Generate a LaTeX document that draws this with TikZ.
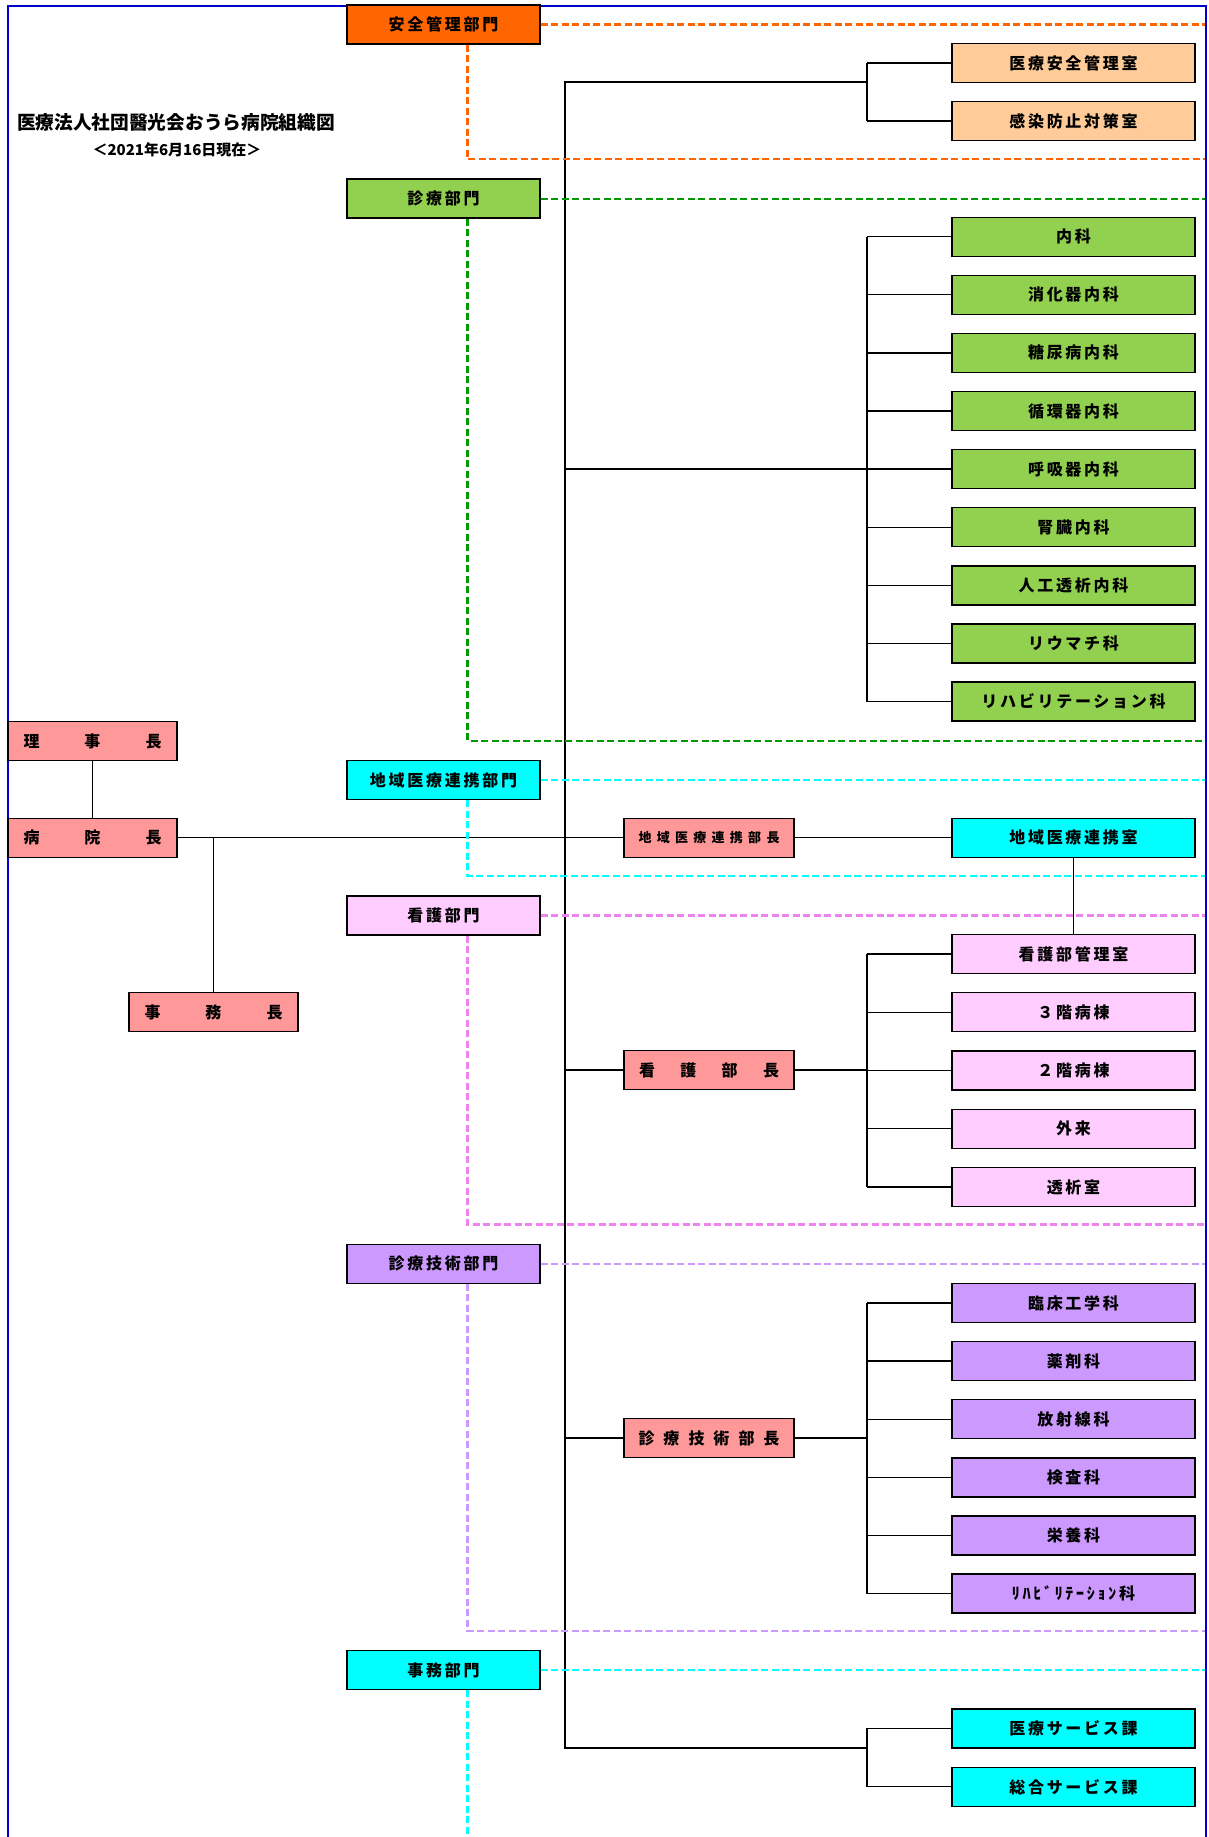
\documentclass[tikz,border=0pt]{standalone}
\usepackage{fontspec}
\setmainfont{Noto Sans CJK JP}
\newfontfamily\jp{Noto Sans CJK JP}[LetterSpace=17]
\newfontfamily\jpn{Noto Sans CJK JP}
\definecolor{cOrange}{HTML}{FF6600}
\definecolor{cPeach}{HTML}{FFCC99}
\definecolor{cGreen}{HTML}{92D050}
\definecolor{cGreenLine}{HTML}{009900}
\definecolor{cCyan}{HTML}{00FFFF}
\definecolor{cPink}{HTML}{FFCCFF}
\definecolor{cPinkLine}{HTML}{EE82EE}
\definecolor{cPurple}{HTML}{CC99FF}
\definecolor{cRed}{HTML}{FF9999}
\definecolor{cBlue}{HTML}{0000CC}
\newcommand\boxfont{\jp\bfseries\fontsize{16pt}{18pt}\selectfont}
\newcommand\smallboxfont{\jpn\bfseries\fontsize{13pt}{15pt}\selectfont}
\tikzset{
  conn/.style={draw=black, line width=1.3pt},
  box/.style={draw=black, line width=1.4pt, minimum height=39pt, inner sep=0pt, font=\boxfont},
  dept/.style={box, minimum width=193pt},
  unit/.style={box, minimum width=243pt},
  head/.style={box, minimum width=170pt, fill=cRed},
  exec/.style={box, minimum width=169pt, fill=cRed},
  dsh/.style={line width=2.2pt, dash pattern=on 7pt off 3.5pt},
}
\begin{document}
\begin{tikzpicture}[x=1pt,y=-1pt]
\useasboundingbox (0,0) rectangle (1208,1837);
% page border
\draw[cBlue, line width=1.6pt] (8,1837) -- (8,6) -- (1206,6) -- (1206,1837);

% title
\node[font=\jpn\bfseries\fontsize{18.7pt}{21pt}\selectfont] (title) at (176,122) {医療法人社団醫光会おうら病院組織図};
\node[font=\jpn\bfseries\fontsize{15pt}{17pt}\selectfont] (date) at (177,150) {＜2021年6月16日現在＞};

% coordinates
\coordinate (tTop) at (565,82);
\coordinate (tBot) at (565,1748);
\coordinate (bx) at (867,0);
\coordinate (R) at (1205,0);

% executives
\node[exec] (riji) at (92.5,741) {\makebox[138pt][s]{理\hfill 事\hfill 長}};
\node[exec] (incho) at (92.5,837.7) {\makebox[138pt][s]{病\hfill 院\hfill 長}};
\node[exec] (jimucho) at (213.5,1012) {\makebox[138pt][s]{事\hfill 務\hfill 長}};

% departments
\node[dept, fill=cOrange] (safedept) at (443.5,24.5) {安全管理部門};
\node[dept, fill=cGreen] (meddept) at (443.5,198.6) {診療部門};
\node[dept, fill=cCyan] (chiikidept) at (443.5,780) {地域医療連携部門};
\node[dept, fill=cPink] (kangodept) at (443.5,915.5) {看護部門};
\node[dept, fill=cPurple] (gidept) at (443.5,1263.7) {診療技術部門};
\node[dept, fill=cCyan] (jimudept) at (443.5,1670) {事務部門};

% heads
\node[head] (chiikibucho) at (709,837.7) {\smallboxfont\makebox[141pt][s]{地\hfill 域\hfill 医\hfill 療\hfill 連\hfill 携\hfill 部\hfill 長}};
\node[head] (kangobucho) at (709,1070) {\makebox[140pt][s]{看\hfill 護\hfill 部\hfill 長}};
\node[head] (gibucho) at (709,1438) {\makebox[141pt][s]{診\hfill 療\hfill 技\hfill 術\hfill 部\hfill 長}};

% units
\node[unit, fill=cPeach] (s1) at (1073.5,63) {医療安全管理室};
\node[unit, fill=cPeach] (s2) at (1073.5,121) {感染防止対策室};
\foreach \t [count=\i from 0] in {内科,消化器内科,糖尿病内科,循環器内科,呼吸器内科,腎臓内科,人工透析内科,リウマチ科,リハビリテーション科}
  \node[unit, fill=cGreen] (m\i) at (1073.5,{236.7+58.1*\i}) {\t};
\node[unit, fill=cCyan] (chiikishitsu) at (1073.5,837.7) {地域医療連携室};
\foreach \t [count=\i from 0] in {看護部管理室,３階病棟,２階病棟,外来,透析室}
  \node[unit, fill=cPink] (k\i) at (1073.5,{954+58.25*\i}) {\t};
\foreach \t [count=\i from 0] in {臨床工学科,薬剤科,放射線科,検査科,栄養科,ﾘﾊﾋﾞﾘﾃｰｼｮﾝ科}
  \node[unit, fill=cPurple] (g\i) at (1073.5,{1303+58.1*\i}) {\t};
\node[unit, fill=cCyan] (a0) at (1073.5,1728.3) {医療サービス課};
\node[unit, fill=cCyan] (a1) at (1073.5,1786.8) {総合サービス課};

% solid connectors
\draw[conn] (riji.south) -- (incho.north);
\draw[conn] (incho.east) -- (chiikibucho.west);
\draw[conn] (chiikibucho.east) -- (chiikishitsu.west);
\draw[conn] (jimucho.north) -- (jimucho.north |- incho.east);
\draw[conn] (chiikishitsu.south) -- (k0.north);
\draw[conn] (tTop -| bx) -- (tTop) -- (tBot) -- (tBot -| bx);
% safety bracket
\draw[conn] (s1.west -| bx) -- (s2.west -| bx);
\draw[conn] (s1.west) -- (s1.west -| bx);
\draw[conn] (s2.west) -- (s2.west -| bx);
% medical
\draw[conn] (m0.west -| bx) -- (m8.west -| bx);
\foreach \i in {0,...,8} \draw[conn] (m\i.west) -- (m\i.west -| bx);
\draw[conn] (m4.west -| tTop) -- (m4.west -| bx);
% nursing
\draw[conn] (k0.west -| bx) -- (k4.west -| bx);
\foreach \i in {0,...,4} \draw[conn] (k\i.west) -- (k\i.west -| bx);
\draw[conn] (kangobucho.west -| tTop) -- (kangobucho.west);
\draw[conn] (kangobucho.east) -- (kangobucho.east -| bx);
% technical
\draw[conn] (g0.west -| bx) -- (g5.west -| bx);
\foreach \i in {0,...,5} \draw[conn] (g\i.west) -- (g\i.west -| bx);
\draw[conn] (gibucho.west -| tTop) -- (gibucho.west);
\draw[conn] (gibucho.east) -- (gibucho.east -| bx);
% admin
\draw[conn] (a0.west -| bx) -- (a1.west -| bx);
\draw[conn] (a0.west) -- (a0.west -| bx);
\draw[conn] (a1.west) -- (a1.west -| bx);

% dashed department lines
\coordinate (eSafe) at (1205,159.3);
\coordinate (eMed) at (1205,740.7);
\coordinate (eChiiki) at (1205,875.7);
\coordinate (eKango) at (1205,1224.4);
\coordinate (eGi) at (1205,1631);
\coordinate (eJimu) at (467.5,1837);
\draw[dsh, cOrange] (safedept.east) -- (safedept.east -| R);
\draw[dsh, cOrange] ([xshift=24pt]safedept.south) |- (eSafe);
\draw[dsh, cGreenLine] (meddept.east) -- (meddept.east -| R);
\draw[dsh, cGreenLine] ([xshift=24pt]meddept.south) |- (eMed);
\draw[dsh, cCyan] (chiikidept.east) -- (chiikidept.east -| R);
\draw[dsh, cCyan] ([xshift=24pt]chiikidept.south) |- (eChiiki);
\draw[dsh, cPinkLine] (kangodept.east) -- (kangodept.east -| R);
\draw[dsh, cPinkLine] ([xshift=24pt]kangodept.south) |- (eKango);
\draw[dsh, cPurple] (gidept.east) -- (gidept.east -| R);
\draw[dsh, cPurple] ([xshift=24pt]gidept.south) |- (eGi);
\draw[dsh, cCyan] (jimudept.east) -- (jimudept.east -| R);
\draw[dsh, cCyan] ([xshift=24pt]jimudept.south) -- (eJimu);
\end{tikzpicture}
\end{document}
